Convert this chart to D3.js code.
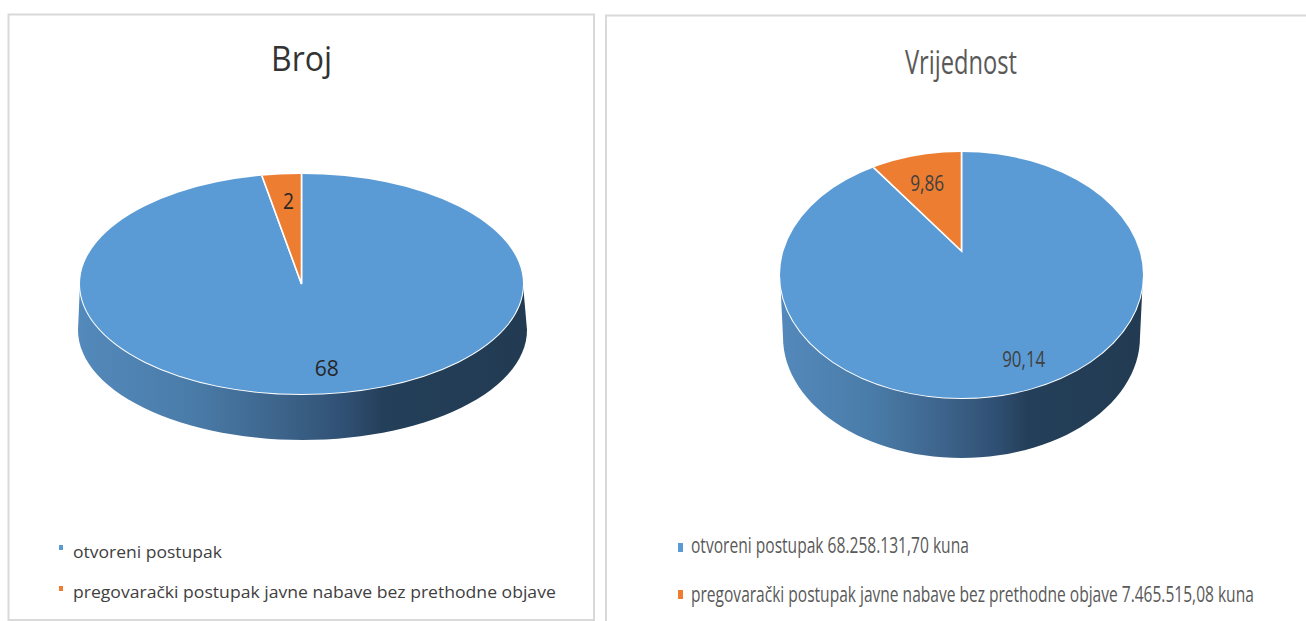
<!DOCTYPE html>
<html>
<head>
<meta charset="utf-8">
<style>
  html, body { margin: 0; padding: 0; background: #fff; }
  svg { display: block; }
  text { font-family: "Open Sans", "Noto Sans", sans-serif; }
</style>
</head>
<body>
<div id="chart"></div>
<script src="https://cdn.jsdelivr.net/npm/d3@7"></script>
<script>
const width = 1306;
const height = 621;

// Data
const brojCategories = ["otvoreni postupak", "pregovarački postupak javne nabave bez prethodne objave"];
const brojValues = [68, 2];
const brojLabels = ["68", "2"];

const vrijednostCategories = ["otvoreni postupak 68.258.131,70 kuna", "pregovarački postupak javne nabave bez prethodne objave 7.465.515,08 kuna"];
const vrijednostValues = [90.14, 9.86];
const vrijednostLabels = ["90,14", "9,86"];

// Styling
const sliceColours = ["#5b9bd5", "#ed7d31"];
const borderColour = "#d9d9d9";
const wallStops = [
  [0, "#5389bb"], [0.25, "#4a7ca9"], [0.45, "#3d648b"],
  [0.6, "#2f4f72"], [0.68, "#243f59"], [1, "#223b53"]
];

const svg = d3.select("#chart").append("svg")
  .attr("width", width)
  .attr("height", height);

// Panel frames
svg.append("path")
  .attr("d", "M8.5,621 V14.5 H594 V620 H8.5")
  .attr("fill", "none")
  .attr("stroke", borderColour)
  .attr("stroke-width", 2);

svg.append("path")
  .attr("d", "M606,621 V15.5 H1306")
  .attr("fill", "none")
  .attr("stroke", borderColour)
  .attr("stroke-width", 2);

// Helper: squeeze a text to a measured width with a transform, so its box stays true
function fitText(selection, x, y, targetWidth) {
  selection.attr("transform", function (d, i) {
    const w = typeof targetWidth === "function" ? targetWidth(d, i) : targetWidth;
    const yPos = typeof y === "function" ? y(d, i) : y;
    return `translate(${x},${yPos}) scale(${w / this.getComputedTextLength()},1)`;
  });
}

// Helper: one 3D pie with its title and legend
function drawPie(id, opts) {
  const g = svg.append("g").attr("id", id);
  const { cx, cy, rx, ry, apexY, bottom, title, legend } = opts;
  const squash = ry / rx;

  // Side wall, lower half of the rim pushed down to a slightly different ellipse
  const grad = svg.append("defs").append("linearGradient")
    .attr("id", id + "-wall")
    .attr("x1", 0).attr("x2", 1).attr("y1", 0).attr("y2", 0);
  wallStops.forEach(s => grad.append("stop").attr("offset", s[0]).attr("stop-color", s[1]));

  const wallLine = d3.line();
  const steps = d3.range(0, 181, 3).map(a => a * Math.PI / 180);
  const wallPoints = [[cx - rx, cy]]
    .concat(steps.map(t => [bottom.cx - bottom.rx * Math.cos(t), bottom.cy + bottom.ry * Math.sin(t)]))
    .concat([[cx + rx, cy]]);
  g.append("path")
    .attr("d", wallLine(wallPoints) + "Z")
    .attr("fill", `url(#${id}-wall)`);

  // Top face, slices are clipped to the ellipse
  const clip = svg.append("defs").append("clipPath").attr("id", id + "-clip");
  clip.append("ellipse").attr("cx", cx).attr("cy", cy).attr("rx", rx).attr("ry", ry);

  g.append("ellipse")
    .attr("cx", cx).attr("cy", cy).attr("rx", rx).attr("ry", ry)
    .attr("fill", sliceColours[0])
    .attr("stroke", "#fff")
    .attr("stroke-width", 2);
  g.append("path")
    .attr("d", `M${cx - rx},${cy} A${rx},${ry} 0 0 1 ${cx + rx},${cy}`)
    .attr("fill", "none")
    .attr("stroke", "#fff")
    .attr("stroke-width", 3);

  const arcs = d3.pie().sort(null)(opts.values);
  const arc = d3.arc().innerRadius(0).outerRadius(rx * 3);

  const top = g.append("g").attr("clip-path", `url(#${id}-clip)`)
    .append("g")
    .attr("transform", `translate(${cx},${apexY}) scale(1,${squash})`);

  top.selectAll("path")
    .data(arcs)
    .join("path")
    .attr("d", arc)
    .attr("fill", (d, i) => sliceColours[i])
    .attr("stroke", "#fff")
    .attr("stroke-width", 1.6)
    .attr("vector-effect", "non-scaling-stroke");

  // Data labels
  g.selectAll("text.value")
    .data(arcs)
    .join("text")
    .attr("class", "value")
    .attr("text-anchor", "middle")
    .attr("dominant-baseline", "central")
    .attr("x", (d, i) => cx + Math.sin((d.startAngle + d.endAngle) / 2) * opts.labelRadius[i] + opts.labelNudge[i])
    .attr("y", (d, i) => apexY - Math.cos((d.startAngle + d.endAngle) / 2) * opts.labelRadius[i] * squash)
    .attr("font-size", opts.labelSize)
    .attr("fill", opts.labelColour)
    .attr("textLength", (d, i) => opts.labelWidth[i])
    .attr("lengthAdjust", "spacingAndGlyphs")
    .text((d, i) => opts.labels[i]);

  // Title
  g.append("text")
    .attr("x", title.x)
    .attr("y", title.y)
    .attr("text-anchor", "middle")
    .attr("font-size", title.size)
    .attr("fill", title.colour)
    .attr("textLength", title.width)
    .attr("lengthAdjust", "spacingAndGlyphs")
    .text(title.text);

  // Legend
  const rows = g.selectAll("g.legend")
    .data(opts.categories)
    .join("g")
    .attr("class", "legend");

  rows.append("rect")
    .attr("x", legend.markerX)
    .attr("y", (d, i) => legend.markerY[i])
    .attr("width", legend.markerW)
    .attr("height", legend.markerH)
    .attr("fill", (d, i) => sliceColours[i]);

  rows.append("text")
    .attr("font-size", legend.size)
    .attr("fill", legend.colour)
    .text(d => d)
    .call(fitText, legend.textX, (d, i) => legend.baseline[i], (d, i) => legend.widths[i]);
}

drawPie("broj", {
  values: brojValues,
  labels: brojLabels,
  categories: brojCategories,
  cx: 301.5, cy: 284, rx: 221.5, ry: 110, apexY: 284,
  bottom: { cx: 302.5, cy: 330, rx: 224.5, ry: 110 },
  labelRadius: [170, 168],
  labelNudge: [10, 2],
  labelWidth: [24, 11],
  labelSize: 21,
  labelColour: "#262626",
  title: { text: "Broj", x: 301.5, y: 71, size: 34, colour: "#333333", width: 61 },
  legend: {
    markerX: 59, markerY: [545, 586], markerW: 4, markerH: 5,
    textX: 73, baseline: [558, 598], widths: [149, 483],
    size: 16.5, colour: "#404040"
  }
});

drawPie("vrijednost", {
  values: vrijednostValues,
  labels: vrijednostLabels,
  categories: vrijednostCategories,
  cx: 961.5, cy: 275, rx: 181.5, ry: 123, apexY: 251,
  bottom: { cx: 961.5, cy: 337, rx: 178.5, ry: 121 },
  labelRadius: [168, 106],
  labelNudge: [11, -2],
  labelWidth: [43, 34],
  labelSize: 21,
  labelColour: "#404040",
  title: { text: "Vrijednost", x: 961, y: 74, size: 32, colour: "#595959", width: 112 },
  legend: {
    markerX: 678, markerY: [543, 590], markerW: 5, markerH: 9,
    textX: 691, baseline: [553, 602], widths: [278, 563],
    size: 21, colour: "#595959"
  }
});
</script>
</body>
</html>
